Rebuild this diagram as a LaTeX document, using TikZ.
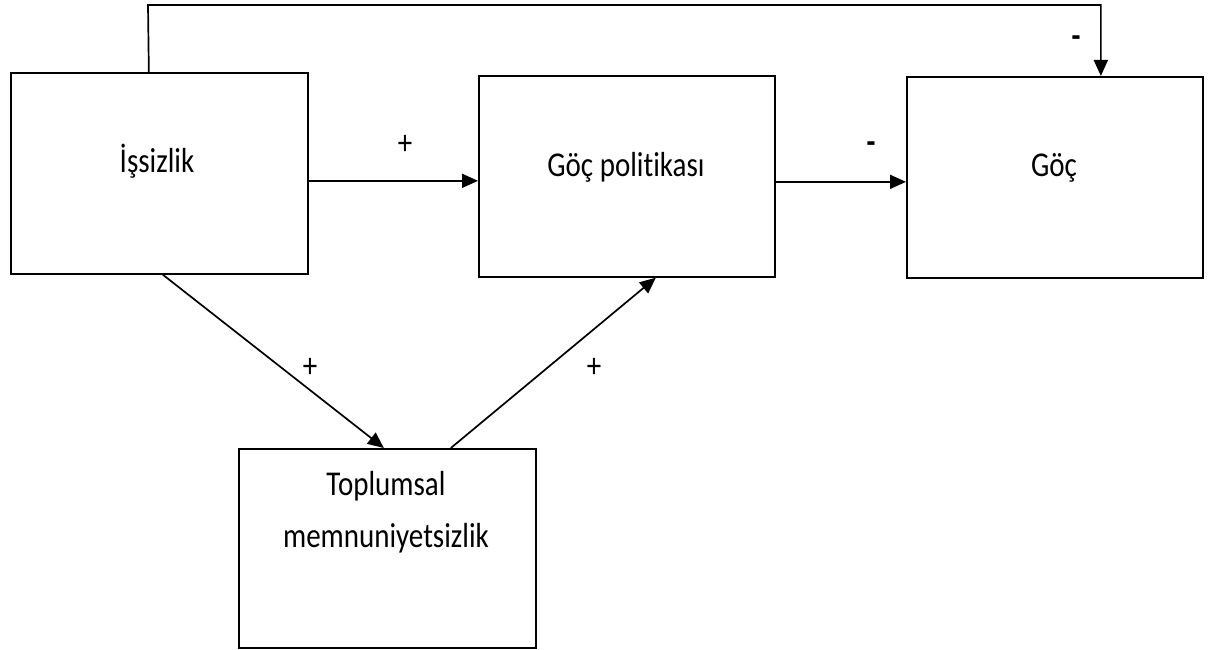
\documentclass[tikz,border=0pt]{standalone}
\usepackage{fontspec}
\setmainfont{Carlito}[Ligatures=NoCommon]
\usetikzlibrary{arrows.meta}
\newcommand{\tall}[1]{\scalebox{1}[1.2]{#1}}

\begin{document}
\begin{tikzpicture}[x=1pt, y=-1pt,
  box/.style={draw, line width=1.7pt, minimum width=297pt, minimum height=201pt,
    inner sep=0pt, anchor=north west},
  txt/.style={font=\fontsize{29}{34}\selectfont, anchor=base, inner sep=0pt},
  sgn/.style={font=\fontsize{29}{34}\selectfont, inner sep=0pt},
  arr/.style={line width=1.7pt, -{Triangle[length=16pt, width=14pt]}}]
  \useasboundingbox (0,0) rectangle (1208,650);
  % boxes
  \node [box] (ISS) at (10, 72) {};
  \node [box, minimum width=296pt] (POL) at (478, 75) {};
  \node [box, minimum width=296pt] (GOC) at (906, 76) {};
  \node [box, minimum height=199pt] (TOP) at (238, 448) {};
  % texts
  \node [txt] (ISSL) at (157, 172) {\tall{İşsizlik}};
  \node [txt] (POLL) at (626, 176) {\tall{Göç politikası}};
  \node [txt] (GOCL) at (1054, 176) {\tall{Göç}};
  \node [txt] (TOPL) at (386, 495) {\tall{Toplumsal}};
  \node [txt] (MEML) at (386, 547) {\tall{memnuniyetsizlik}};
  % connectors
  \coordinate (BEND) at (148, 5);
  \draw [arr] ([yshift=-7.5pt]ISS.east) -- ([yshift=-7.5pt]ISS.east -| POL.west);
  \draw [arr] ([yshift=-5.5pt]POL.east) -- ([yshift=-5.5pt]POL.east -| GOC.west);
  \draw [arr] ([xshift=-10.5pt]ISS.north) -- (BEND) -| ([xshift=46pt]GOC.north);
  \draw [arr] ([xshift=3.5pt]ISS.south) -- ([xshift=-3.5pt]TOP.north);
  \draw [arr] ([xshift=63.5pt]TOP.north) -- ([xshift=29pt]POL.south);
  % signs
  \node [sgn] (S1) at (405, 145) {\tall{+}};
  \node [sgn] (S2) at (871, 148) {\tall{\textbf{-}}};
  \node [sgn] (S3) at (1076, 42) {\tall{\textbf{-}}};
  \node [sgn] (S4) at (310, 368) {\tall{+}};
  \node [sgn] (S5) at (594, 368) {\tall{+}};
\end{tikzpicture}
\end{document}
